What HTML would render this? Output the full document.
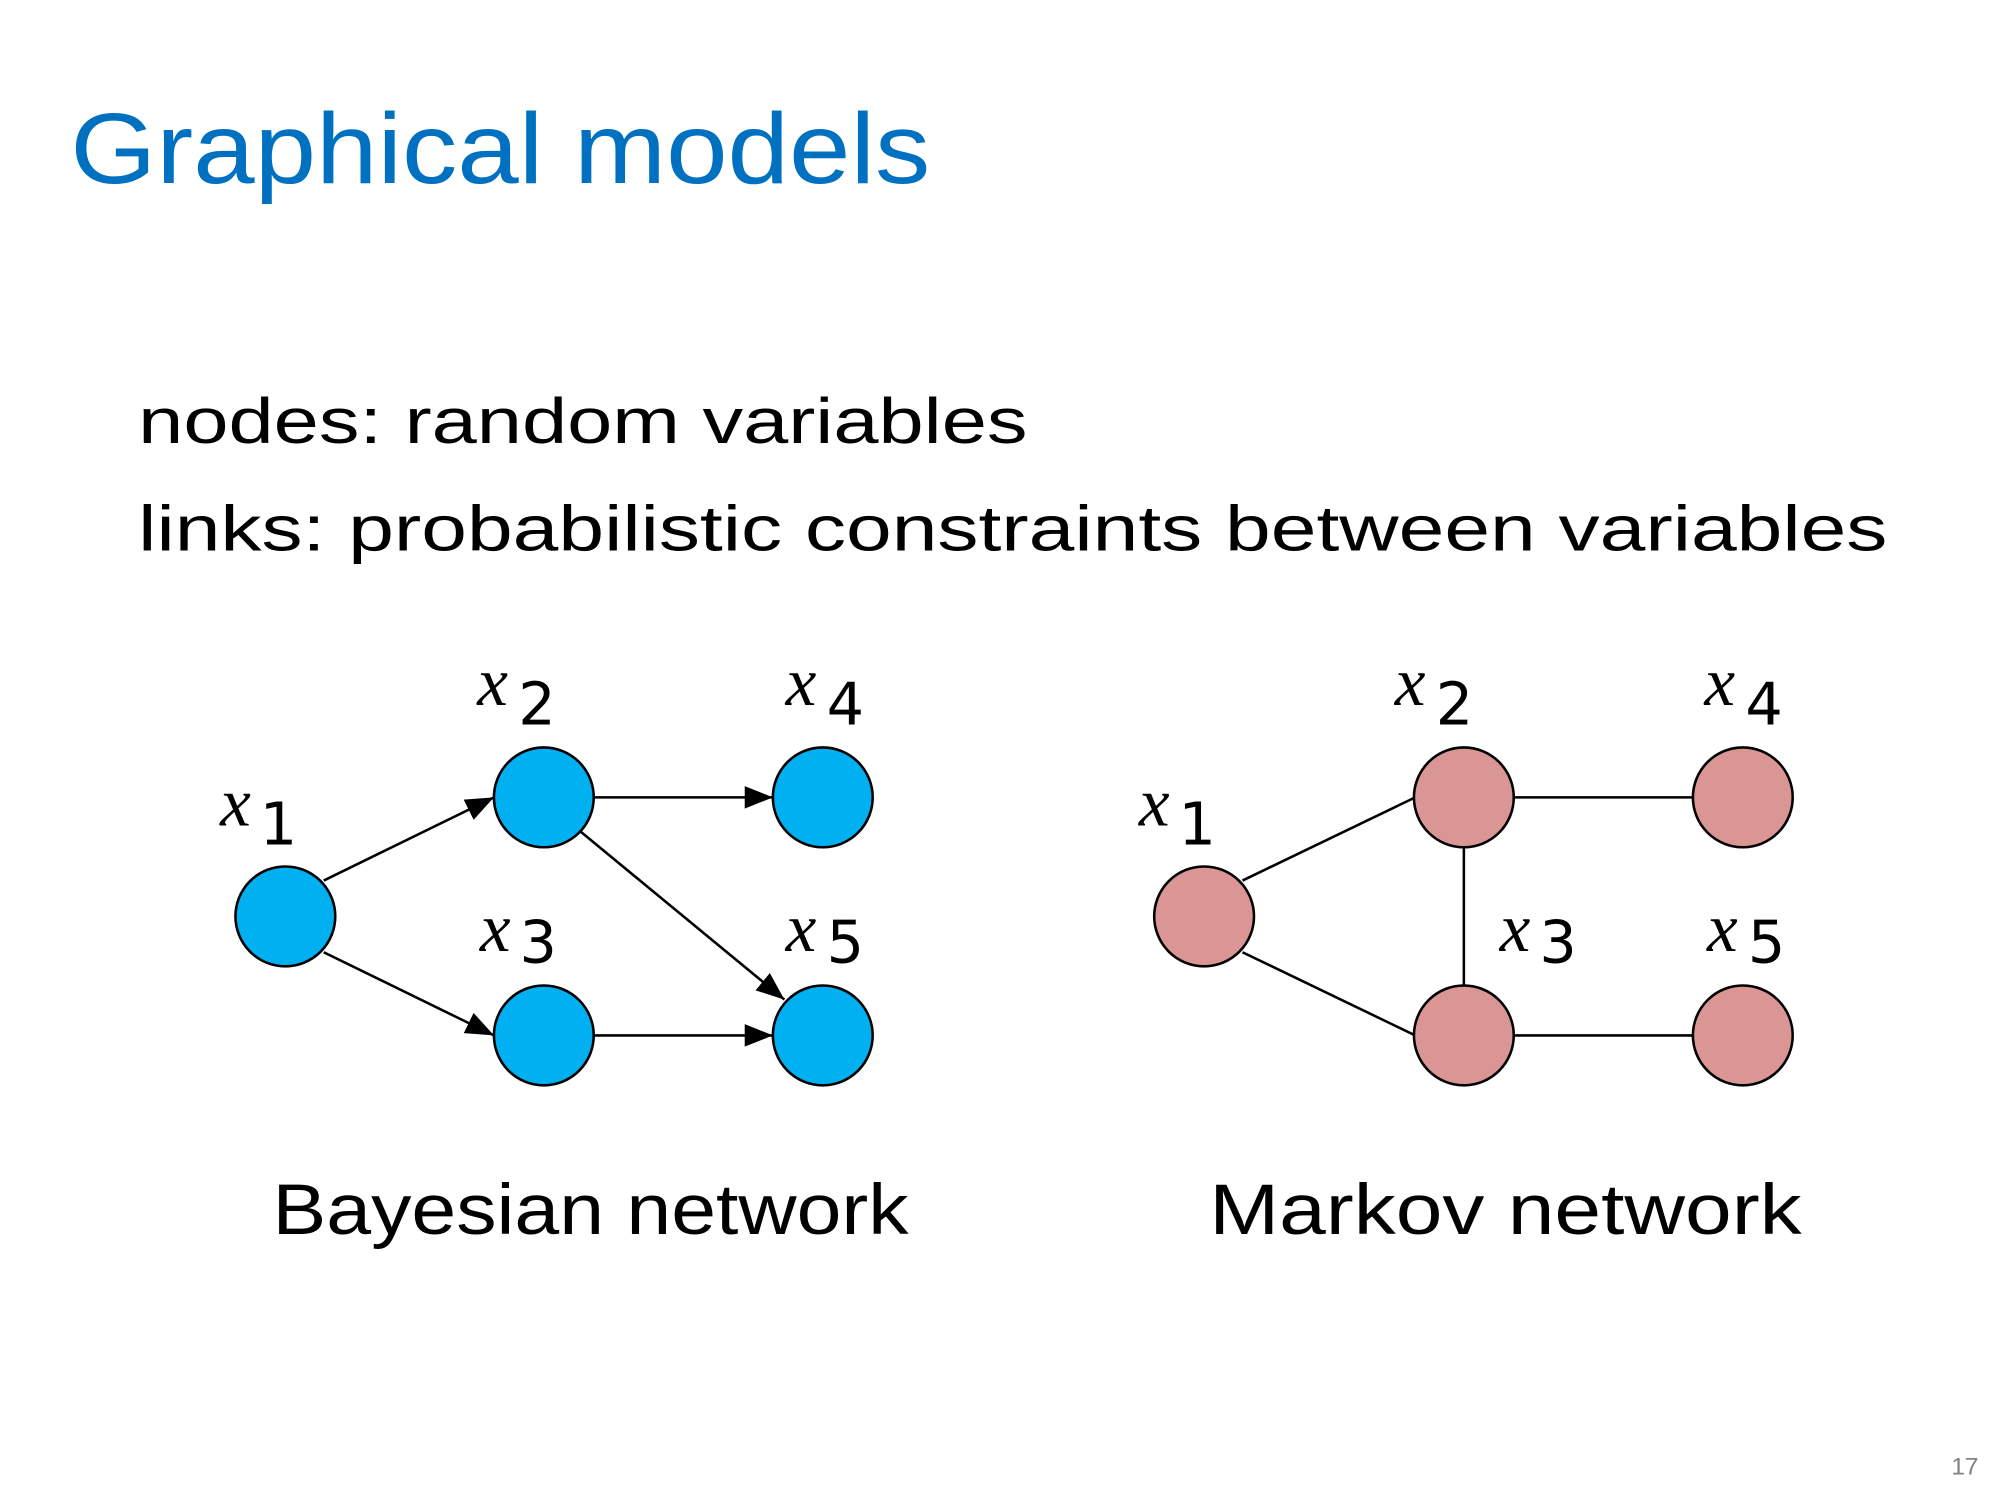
<!DOCTYPE html>
<html><head><meta charset="utf-8"><style>html,body{margin:0;padding:0;background:#fff}svg{display:block}</style></head>
<body>
<svg width="2000" height="1500" viewBox="0 0 1563 1172" preserveAspectRatio="none" xmlns="http://www.w3.org/2000/svg">
<defs><marker id="ar" viewBox="0 0 10 10" refX="10" refY="5" markerWidth="22" markerHeight="22" orient="auto" markerUnits="userSpaceOnUse"><path d="M0,1 L10,5 L0,9 z" fill="#000"/></marker></defs>
<g font-family="Liberation Sans, sans-serif">
<text x="55" y="143" font-size="78" fill="#0070C0" textLength="672" lengthAdjust="spacingAndGlyphs">Graphical models</text>
<text x="108" y="346" font-size="50" fill="#000" textLength="695" lengthAdjust="spacingAndGlyphs">nodes: random variables</text>
<text x="108" y="430" font-size="50" fill="#000" textLength="1367" lengthAdjust="spacingAndGlyphs">links: probabilistic constraints between variables</text>
<text x="213" y="964" font-size="56" fill="#000" textLength="497" lengthAdjust="spacingAndGlyphs">Bayesian network</text>
<text x="945" y="964" font-size="56" fill="#000" textLength="463" lengthAdjust="spacingAndGlyphs">Markov network</text>
<text x="1525" y="1152" font-size="19" fill="#808080">17</text>
</g>
<g stroke="#000" stroke-width="2" fill="none">
<line x1="253" y1="688" x2="386" y2="623" marker-end="url(#ar)"/>
<line x1="253" y1="744" x2="386" y2="809" marker-end="url(#ar)"/>
<line x1="464" y1="623" x2="604" y2="623" marker-end="url(#ar)"/>
<line x1="464" y1="809" x2="604" y2="809" marker-end="url(#ar)"/>
<line x1="454" y1="650" x2="613" y2="781" marker-end="url(#ar)"/>
<line x1="971" y1="688" x2="1106" y2="623"/>
<line x1="971" y1="744" x2="1106" y2="809"/>
<line x1="1144" y1="661" x2="1144" y2="771"/>
<line x1="1183" y1="623" x2="1324" y2="623"/>
<line x1="1183" y1="809" x2="1324" y2="809"/>
</g>
<g stroke="#000" stroke-width="2" fill="#00B0F0">
<circle cx="223" cy="716" r="39"/><circle cx="425" cy="623" r="39"/><circle cx="425" cy="809" r="39"/><circle cx="643" cy="623" r="39"/><circle cx="643" cy="809" r="39"/>
</g>
<g stroke="#000" stroke-width="2" fill="#D99694">
<circle cx="941" cy="716" r="39"/><circle cx="1144" cy="623" r="39"/><circle cx="1144" cy="809" r="39"/><circle cx="1362" cy="623" r="39"/><circle cx="1362" cy="809" r="39"/>
</g>
<g fill="#000">
<g font-family="Liberation Serif, serif" font-style="italic" font-size="54">
<text x="172" y="645">x</text><text x="373" y="551">x</text><text x="614" y="551">x</text><text x="375" y="743">x</text><text x="614" y="743">x</text>
<text x="890" y="645">x</text><text x="1090" y="551">x</text><text x="1332" y="551">x</text><text x="1172" y="743">x</text><text x="1334" y="743">x</text>
</g>
<g font-family="DejaVu Sans, sans-serif" font-size="46">
<text x="203" y="660">1</text><text x="405" y="566">2</text><text x="646" y="566">4</text><text x="406" y="752">3</text><text x="646" y="752">5</text>
<text x="921" y="660">1</text><text x="1122" y="566">2</text><text x="1364" y="566">4</text><text x="1203" y="752">3</text><text x="1366" y="752">5</text>
</g></g>
</svg>
</body></html>
